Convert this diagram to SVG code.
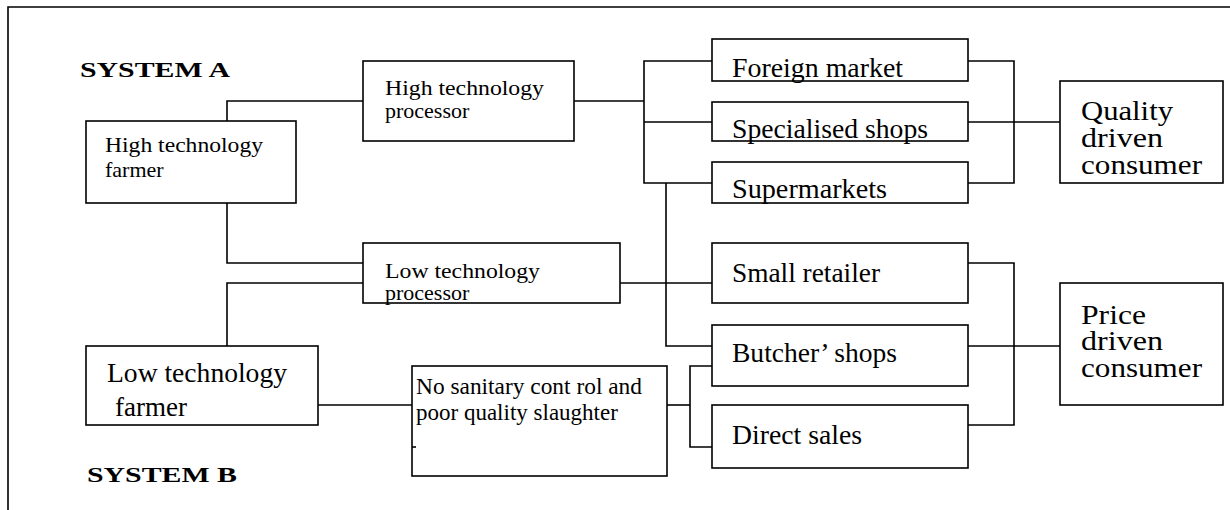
<svg xmlns="http://www.w3.org/2000/svg" width="1230" height="510" viewBox="0 0 1230 510">
<style>
.box{fill:#fff;stroke:#000;stroke-width:1.6}
.ln{fill:none;stroke:#000;stroke-width:1.6}
text{fill:#000}
.s22{font-size:22px}
.s23{font-size:23px}
.s27{font-size:27px}
.s28{font-size:28px}
.s29{font-size:28px}
.lbl{font-size:22px;font-weight:bold}
</style>
<rect width="1230" height="510" fill="#fff"/>
<path class="ln" d="M8,510 V7 H1230"/>
<g font-family="'Liberation Serif', 'DejaVu Serif', 'Times New Roman', serif">
<text class="lbl" x="80" y="77" textLength="150" lengthAdjust="spacingAndGlyphs">SYSTEM A</text>
<text class="lbl" x="87" y="482" textLength="150" lengthAdjust="spacingAndGlyphs">SYSTEM  B</text>
<g id="connectors">
<path class="ln" d="M227,121 V101 H363"/>
<path class="ln" d="M227,203 V263 H363"/>
<path class="ln" d="M227,346 V283 H363"/>
<path class="ln" d="M574,101 H644"/>
<path class="ln" d="M712,61 H644 V183 H712"/>
<path class="ln" d="M644,122 H712"/>
<path class="ln" d="M666,183 V346 H712"/>
<path class="ln" d="M620,283 H712"/>
<path class="ln" d="M318,405 H412"/>
<path class="ln" d="M667,405 H690"/>
<path class="ln" d="M712,366 H690 V447 H712"/>
<path class="ln" d="M968,61 H1014 V183 H968"/>
<path class="ln" d="M968,122 H1060"/>
<path class="ln" d="M968,263 H1014 V425 H968"/>
<path class="ln" d="M968,346 H1060"/>
</g>
<g id="hi-farmer">
<rect class="box" x="86" y="121" width="210" height="82"/>
<text class="s22" x="105" y="152" textLength="158" lengthAdjust="spacingAndGlyphs">High technology</text>
<text class="s22" x="105" y="177">farmer</text>
</g>
<g id="hi-processor">
<rect class="box" x="363" y="61" width="211" height="80"/>
<text class="s22" x="385" y="95" textLength="159" lengthAdjust="spacingAndGlyphs">High technology</text>
<text class="s22" x="385" y="118">processor</text>
</g>
<g id="lo-processor">
<rect class="box" x="363" y="243" width="257" height="60"/>
<text class="s22" x="385" y="278" textLength="155" lengthAdjust="spacingAndGlyphs">Low technology</text>
<text class="s22" x="385" y="300">processor</text>
</g>
<g id="lo-farmer">
<rect class="box" x="86" y="346" width="232" height="79"/>
<text class="s27" x="107" y="382" textLength="180" lengthAdjust="spacingAndGlyphs">Low technology</text>
<text class="s27" x="115" y="416">farmer</text>
</g>
<g id="slaughter">
<rect class="box" x="412" y="366" width="255" height="110"/>
<text class="s23" x="416" y="394" textLength="226" lengthAdjust="spacingAndGlyphs">No sanitary cont rol and</text>
<text class="s23" x="416" y="420">poor quality slaughter</text>
<path class="ln" d="M412,447 H416"/>
</g>
<g id="foreign">
<rect class="box" x="712" y="39" width="256" height="42"/>
<text class="s28" x="732" y="77" textLength="171" lengthAdjust="spacingAndGlyphs">Foreign market</text>
</g>
<g id="specialised">
<rect class="box" x="712" y="102" width="256" height="39"/>
<text class="s28" x="732" y="138" textLength="196" lengthAdjust="spacingAndGlyphs">Specialised shops</text>
</g>
<g id="supermarkets">
<rect class="box" x="712" y="162" width="256" height="41"/>
<text class="s28" x="732" y="198" textLength="155" lengthAdjust="spacingAndGlyphs">Supermarkets</text>
</g>
<g id="small-retailer">
<rect class="box" x="712" y="243" width="256" height="60"/>
<text class="s28" x="732" y="282" textLength="148" lengthAdjust="spacingAndGlyphs">Small retailer</text>
</g>
<g id="butcher">
<rect class="box" x="712" y="325" width="256" height="61"/>
<text class="s28" x="732" y="362" textLength="165" lengthAdjust="spacingAndGlyphs">Butcher’ shops</text>
</g>
<g id="direct">
<rect class="box" x="712" y="405" width="256" height="63"/>
<text class="s28" x="732" y="444" textLength="130" lengthAdjust="spacingAndGlyphs">Direct sales</text>
</g>
<g id="quality-consumer">
<rect class="box" x="1060" y="81" width="163" height="102"/>
<text class="s29" x="1081" y="120" textLength="92" lengthAdjust="spacingAndGlyphs">Quality</text>
<text class="s29" x="1081" y="147" textLength="82" lengthAdjust="spacingAndGlyphs">driven</text>
<text class="s29" x="1081" y="174" textLength="121" lengthAdjust="spacingAndGlyphs">consumer</text>
</g>
<g id="price-consumer">
<rect class="box" x="1060" y="283" width="163" height="122"/>
<text class="s29" x="1081" y="324" textLength="65" lengthAdjust="spacingAndGlyphs">Price</text>
<text class="s29" x="1081" y="350" textLength="82" lengthAdjust="spacingAndGlyphs">driven</text>
<text class="s29" x="1081" y="377" textLength="121" lengthAdjust="spacingAndGlyphs">consumer</text>
</g>
</g>
</svg>
